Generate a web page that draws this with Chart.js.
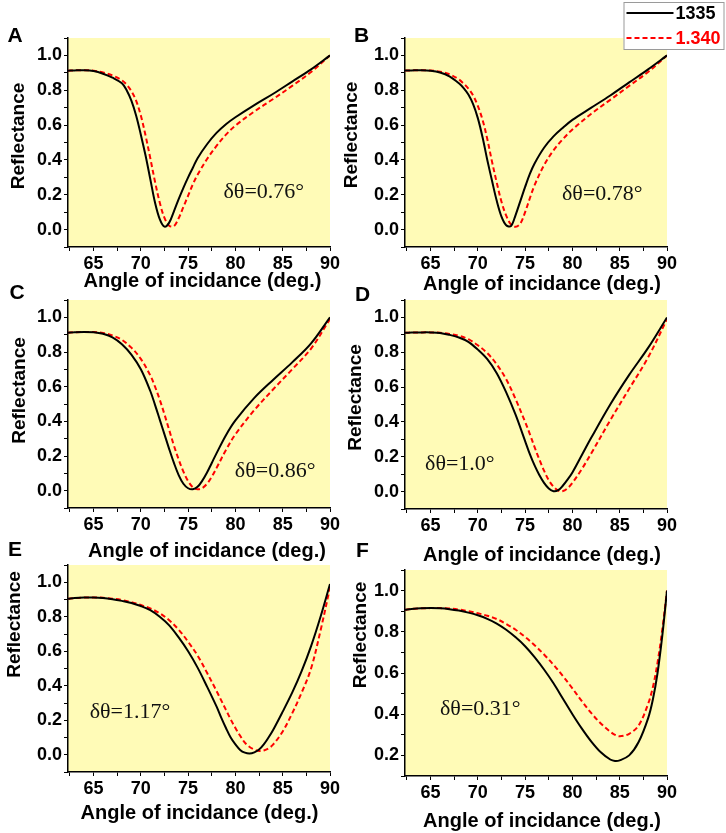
<!DOCTYPE html>
<html>
<head>
<meta charset="utf-8">
<script src="https://cdn.jsdelivr.net/npm/chart.js@4.4.0/dist/chart.umd.min.js"></script>
<style>
  html, body { margin: 0; padding: 0; background: #fff; }
  body { width: 726px; height: 833px; position: relative; overflow: hidden; }
  canvas { position: absolute; }
</style>
</head>
<body>
<script>
// ---- data: angle of incidence (deg.) and reflectance ----
const angA   = [62.3,63,64,65,66,67,68,68.5,69,69.5,70,70.5,71,71.5,72,72.5,73,73.5,74,74.5,75,75.5,76,77,78,79,80,82,84,86,88,90];
const r1335A = [0.912,0.914,0.915,0.91,0.895,0.872,0.84,0.8,0.74,0.655,0.545,0.425,0.29,0.155,0.06,0.017,0.04,0.105,0.175,0.24,0.30,0.355,0.41,0.49,0.555,0.605,0.645,0.715,0.78,0.85,0.92,1.0];
const r1340A = [0.912,0.914,0.915,0.912,0.902,0.885,0.857,0.832,0.795,0.74,0.655,0.54,0.41,0.275,0.155,0.067,0.022,0.02,0.065,0.13,0.195,0.26,0.315,0.405,0.48,0.545,0.597,0.678,0.75,0.825,0.905,1.0];

const angB   = [62.3,63,64,65,66,67,68,68.5,69,69.5,70,70.5,71,71.5,72,72.5,73,73.5,74,74.5,75,75.5,76,77,78,79,80,82,84,86,88,90];
const r1335B = [0.913,0.914,0.915,0.912,0.902,0.88,0.84,0.812,0.775,0.72,0.64,0.53,0.4,0.28,0.165,0.075,0.025,0.02,0.085,0.165,0.245,0.32,0.38,0.47,0.535,0.585,0.63,0.7,0.77,0.845,0.92,1.0];
const r1340B = [0.913,0.914,0.915,0.913,0.907,0.892,0.862,0.838,0.81,0.77,0.71,0.63,0.52,0.39,0.27,0.16,0.08,0.03,0.016,0.035,0.1,0.18,0.255,0.37,0.455,0.52,0.575,0.665,0.745,0.825,0.905,1.0];

const angC   = [62.3,63,64,65,66,67,68,69,70,71,71.5,72,72.5,73,73.5,74,74.5,75,75.5,76,76.5,77,77.5,78,79,80,82,84,86,88,90];
const r1335C = [0.911,0.914,0.916,0.914,0.905,0.885,0.845,0.785,0.70,0.575,0.495,0.41,0.325,0.24,0.16,0.09,0.04,0.014,0.008,0.022,0.058,0.105,0.16,0.215,0.32,0.405,0.535,0.64,0.74,0.85,1.0];
const r1340C = [0.911,0.914,0.916,0.915,0.91,0.895,0.87,0.825,0.76,0.665,0.6,0.525,0.44,0.35,0.26,0.18,0.11,0.055,0.02,0.008,0.015,0.04,0.08,0.13,0.235,0.325,0.465,0.585,0.7,0.82,0.99];

const angD   = [62.3,63,64,65,66,67,68,69,70,71,72,73,74,75,75.5,76,76.5,77,77.5,78,78.5,79,79.5,80,81,82,84,86,88,90];
const r1335D = [0.912,0.913,0.914,0.914,0.911,0.9,0.885,0.86,0.815,0.76,0.68,0.57,0.44,0.29,0.215,0.15,0.095,0.05,0.018,0.002,0.008,0.035,0.07,0.11,0.21,0.31,0.5,0.67,0.825,1.0];
const r1340D = [0.912,0.913,0.914,0.914,0.912,0.905,0.895,0.875,0.84,0.795,0.73,0.645,0.53,0.40,0.33,0.255,0.185,0.12,0.065,0.028,0.006,0.003,0.02,0.05,0.13,0.22,0.41,0.59,0.77,0.99];

const angE   = [62.3,63,64,65,66,67,68,69,70,71,72,73,74,75,76,77,78,78.5,79,79.5,80,80.5,81,81.5,82,82.5,83,83.5,84,85,86,87,88,89,90];
const r1335E = [0.904,0.908,0.911,0.912,0.909,0.902,0.892,0.88,0.862,0.838,0.8,0.75,0.68,0.6,0.505,0.395,0.28,0.215,0.155,0.1,0.06,0.028,0.012,0.007,0.014,0.03,0.06,0.1,0.145,0.25,0.36,0.485,0.63,0.8,0.99];
const r1340E = [0.904,0.908,0.911,0.912,0.91,0.905,0.897,0.885,0.868,0.848,0.82,0.78,0.725,0.655,0.575,0.475,0.37,0.315,0.26,0.205,0.155,0.11,0.07,0.045,0.03,0.022,0.025,0.037,0.06,0.135,0.24,0.36,0.5,0.72,0.97];

const angF   = [62.3,63,64,65,66,67,68,69,70,71,72,73,74,75,76,77,78,79,80,81,82,83,84,84.5,85,86,87,88,88.5,89,89.5,90];
const r1335F = [0.907,0.911,0.914,0.915,0.914,0.91,0.903,0.893,0.88,0.863,0.84,0.81,0.773,0.73,0.677,0.617,0.55,0.475,0.4,0.33,0.267,0.215,0.18,0.173,0.176,0.2,0.265,0.38,0.47,0.6,0.78,1.0];
const r1340F = [0.907,0.911,0.914,0.915,0.915,0.913,0.908,0.9,0.89,0.878,0.862,0.838,0.81,0.775,0.735,0.69,0.64,0.585,0.525,0.463,0.405,0.355,0.315,0.3,0.293,0.305,0.345,0.45,0.53,0.65,0.81,1.0];

const seriesLabels = ['1335', '1.340'];
const notes = ['δθ=0.76°', 'δθ=0.78°', 'δθ=0.86°', 'δθ=1.0°', 'δθ=1.17°', 'δθ=0.31°'];
const xMajor = [65, 70, 75, 80, 85, 90];
const yMajor = [0.0, 0.2, 0.4, 0.6, 0.8, 1.0];
const yMajorF = [0.2, 0.4, 0.6, 0.8, 1.0];

const X_TITLE = 'Angle of incidance (deg.)';
const Y_TITLE = 'Reflectance';
const SANS = "'Liberation Sans', Arial, sans-serif";
const SERIF = "'Liberation Serif', 'Times New Roman', serif";
const PLOT_BG = '#fffbb7';
const X_MIN = 62.3, X_MAX = 90;

// page layout of each plot area, plus offsets of the texts around it
const PAD_L = 68, PAD_T = 36, PAD_R = 60, PAD_B = 60;
const LEGEND = { dx: -43.5, dy: -36, w: 100, h: 47, row0: 11, rowH: 25 };

const panels = [
  { key: 'A', x: 68,    y: 38,    w: 262, h: 209, letter: [-53, -2],   yTitle: [-49, -6.5], xTitle: [3.5, 34], ang: angA, s1: r1335A, s2: r1340A, note: notes[0], noteAt: [83.0, 0.215], yMin: -0.1, yLab: yMajor },
  { key: 'B', x: 404.5, y: 38,    w: 262, h: 209, letter: [-43.5, -2], yTitle: [-53.5, -7.5], xTitle: [6, 37], ang: angB, s1: r1335B, s2: r1340B, note: notes[1], noteAt: [83.16, 0.203], yMin: -0.1, yLab: yMajor, legend: true },
  { key: 'C', x: 68,    y: 300,   w: 262, h: 208, letter: [-51, -7],   yTitle: [-48, -13.5], xTitle: [8, 43], ang: angC, s1: r1335C, s2: r1340C, note: notes[2], noteAt: [84.2, 0.11], yMin: -0.1, yLab: yMajor },
  { key: 'D', x: 404.5, y: 299.5, w: 262, h: 209, letter: [-42.5, -4.5], yTitle: [-49.5, -7], xTitle: [6, 46], ang: angD, s1: r1335D, s2: r1340D, note: notes[3], noteAt: [68.1, 0.157], yMin: -0.1, yLab: yMajor },
  { key: 'E', x: 68,    y: 565,   w: 262, h: 207, letter: [-53, -15],  yTitle: [-53, -44], xTitle: [0.5, 41], ang: angE, s1: r1335E, s2: r1340E, note: notes[4], noteAt: [68.85, 0.245], yMin: -0.1, yLab: yMajor },
  { key: 'F', x: 404.5, y: 569.5, w: 262, h: 206, letter: [-42.5, -19], yTitle: [-44.5, -38], xTitle: [6, 45], ang: angF, s1: r1335F, s2: r1340F, note: notes[5], noteAt: [70.26, 0.425], yMin: 0.1, yLab: yMajorF }
];

function toPoints(xs, ys) {
  return xs.map((x, i) => ({ x: x, y: ys[i] }));
}

function makeChart(p) {
  const canvas = document.createElement('canvas');
  const cw = PAD_L + p.w + PAD_R, ch = PAD_T + p.h + PAD_B;
  canvas.width = cw;
  canvas.height = ch;
  canvas.style.left = (p.x - PAD_L) + 'px';
  canvas.style.top = (p.y - PAD_T) + 'px';
  canvas.style.width = cw + 'px';
  canvas.style.height = ch + 'px';
  document.body.appendChild(canvas);

  // minor ticks halfway between the labelled ones
  const xTicks = [];
  for (let v = 62.5; v <= X_MAX + 1e-9; v += 2.5) xTicks.push(v);
  const yTicks = [];
  for (let k = Math.round(p.yMin * 10); k <= 11; k++) yTicks.push(k / 10);

  const decor = {
    id: 'decor' + p.key,
    beforeDraw(chart) {
      const a = chart.chartArea, ctx = chart.ctx;
      ctx.save();
      ctx.fillStyle = PLOT_BG;
      ctx.fillRect(a.left, a.top, a.right - a.left, a.bottom - a.top);
      ctx.restore();
    },
    afterDraw(chart) {
      const a = chart.chartArea, ctx = chart.ctx;
      ctx.save();
      ctx.fillStyle = '#000';
      ctx.textAlign = 'center';
      ctx.textBaseline = 'middle';

      ctx.font = 'bold 21px ' + SANS;
      ctx.fillText(p.key, a.left + p.letter[0], a.top + p.letter[1]);

      ctx.font = 'bold 20px ' + SANS;
      ctx.fillText(X_TITLE, (a.left + a.right) / 2 + p.xTitle[0], a.bottom + p.xTitle[1]);

      ctx.save();
      ctx.translate(a.left + p.yTitle[0], (a.top + a.bottom) / 2 + p.yTitle[1]);
      ctx.rotate(-Math.PI / 2);
      ctx.font = 'bold 19px ' + SANS;
      ctx.fillText(Y_TITLE, 0, 0);
      ctx.restore();

      ctx.font = '22px ' + SERIF;
      ctx.fillStyle = '#111';
      ctx.fillText(p.note, chart.scales.x.getPixelForValue(p.noteAt[0]), chart.scales.y.getPixelForValue(p.noteAt[1]));

      if (p.legend) {
        const lx = a.right + LEGEND.dx, ly = a.top + LEGEND.dy;
        ctx.fillStyle = '#fff';
        ctx.fillRect(lx, ly, LEGEND.w, LEGEND.h);
        ctx.strokeStyle = '#9a9a9a';
        ctx.lineWidth = 1;
        ctx.strokeRect(lx + 0.5, ly + 0.5, LEGEND.w, LEGEND.h);
        chart.data.datasets.forEach((ds, i) => {
          const yy = ly + LEGEND.row0 + i * LEGEND.rowH;
          ctx.beginPath();
          ctx.setLineDash(ds.borderDash || []);
          ctx.strokeStyle = ds.borderColor;
          ctx.lineWidth = ds.borderWidth;
          ctx.moveTo(lx + 3, yy);
          ctx.lineTo(lx + 50, yy);
          ctx.stroke();
          ctx.setLineDash([]);
          ctx.fillStyle = ds.borderColor;
          ctx.textAlign = 'left';
          ctx.font = 'bold 18px ' + SANS;
          ctx.fillText(ds.label, lx + 52, yy + 1);
        });
      }
      ctx.restore();
    }
  };

  return new Chart(canvas, {
    type: 'line',
    data: {
      datasets: [
        { label: seriesLabels[0], data: toPoints(p.ang, p.s1), borderColor: '#000000', borderWidth: 2, pointRadius: 0, tension: 0.35, fill: false },
        { label: seriesLabels[1], data: toPoints(p.ang, p.s2), borderColor: '#ff0000', borderWidth: 2, borderDash: [5, 3], pointRadius: 0, tension: 0.35, fill: false }
      ]
    },
    options: {
      responsive: false,
      animation: false,
      events: [],
      layout: { autoPadding: false, padding: { top: PAD_T, right: PAD_R, left: 0, bottom: 0 } },
      plugins: { legend: { display: false }, tooltip: { enabled: false }, title: { display: false } },
      scales: {
        x: {
          type: 'linear', min: X_MIN, max: X_MAX,
          afterBuildTicks: s => { s.ticks = xTicks.map(v => ({ value: v })); },
          afterFit: s => { s.height = PAD_B; s.paddingLeft = 0; s.paddingRight = 0; },
          ticks: {
            autoSkip: false, maxRotation: 0, padding: 2, color: '#000',
            font: { family: SANS, size: 18, weight: 'bold' },
            callback: v => xMajor.includes(v) ? String(v) : ''
          },
          grid: { drawOnChartArea: false, drawTicks: true, tickLength: 4, color: '#000' },
          border: { display: true, color: '#000', width: 1.5 }
        },
        y: {
          type: 'linear', min: p.yMin, max: 1.1,
          afterBuildTicks: s => { s.ticks = yTicks.map(v => ({ value: v })); },
          afterFit: s => { s.width = PAD_L; s.paddingTop = 0; s.paddingBottom = 0; },
          ticks: {
            autoSkip: false, padding: 2, color: '#000',
            font: { family: SANS, size: 18, weight: 'bold' },
            callback: v => p.yLab.includes(v) ? v.toFixed(1) : ''
          },
          grid: { drawOnChartArea: false, drawTicks: true, tickLength: 4, color: '#000' },
          border: { display: true, color: '#000', width: 1.5 }
        }
      }
    },
    plugins: [decor]
  });
}

panels.forEach(makeChart);
</script>
</body>
</html>
